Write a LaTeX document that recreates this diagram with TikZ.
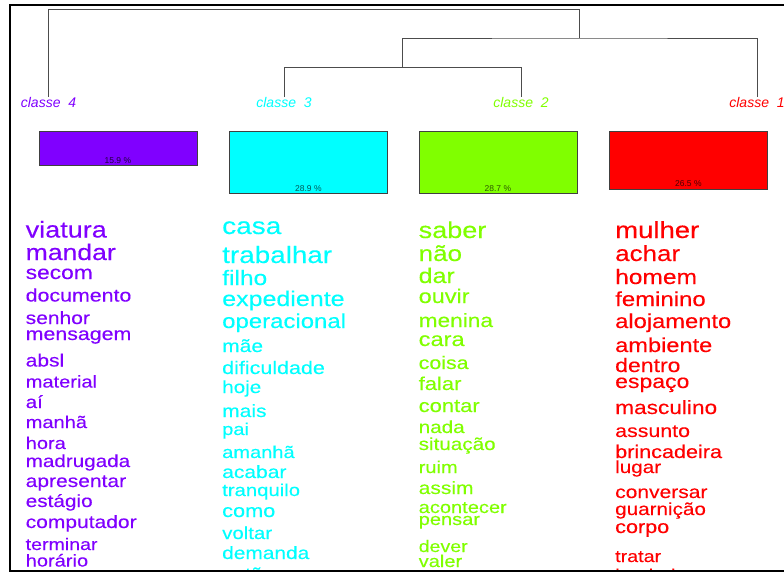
\documentclass[tikz,border=0pt]{standalone}
\usepackage{fontspec}
\setmainfont{Liberation Sans}
\newfontfamily\wordfont[FakeStretch=1.18,FakeBold=0.25]{Liberation Sans}
\usetikzlibrary{positioning}
\definecolor{cfour}{HTML}{8000FF}
\definecolor{cthree}{HTML}{00FFFF}
\definecolor{ctwo}{HTML}{80FF00}
\definecolor{cone}{HTML}{FF0000}
\newcommand\wordsize[1]{\fontsize{#1}{#1}\selectfont}

\begin{document}
\begin{tikzpicture}[x=1pt, y=-1pt,
		frame/.style={line width=2pt, black},
		dendro/.style={line width=1pt, black!70},
		classe/.style={inner sep=0pt, anchor=north, text height=10.5pt, text depth=0pt, font=\fontsize{14}{14}\selectfont\itshape},
		bar/.style={draw=black!75, line width=0.8pt, anchor=north west, inner sep=0pt, minimum width=158pt},
		pct/.style={inner sep=0pt, font=\fontsize{8.5}{8.5}\selectfont},
		word/.style={inner sep=0pt, anchor=base west}]
			%%%%% START %%%%%
			\useasboundingbox (0,0) rectangle (784,573);
			
			\node[classe, text=cfour] (c4) at (48.5,97) {classe\ \ 4};
			\node[classe, text=cthree] (c3) at (284,97) {classe\ \ 3};
			\node[classe, text=ctwo] (c2) at (521,97) {classe\ \ 2};
			\node[classe, text=cone] (c1) at (757,97) {classe\ \ 1};
			
			\coordinate (root) at (579.5,9);
			\coordinate (j123) at (579.5,38);
			\coordinate (j23) at (402,67.5);
			\draw[dendro] (c3.north) |- (j23) -| (c2.north);
			\draw[dendro] (j23) |- (j123) -| (c1.north);
			\draw[dendro] (c4.north) |- (root) -- (j123);
			
			\node[bar, fill=cfour, minimum height=34pt] (b4) at (38.5,131) {};
			\node[bar, fill=cthree, minimum height=62pt] (b3) at (229,131) {};
			\node[bar, fill=ctwo, minimum height=62pt] (b2) at (418.5,131) {};
			\node[bar, fill=cone, minimum height=58pt] (b1) at (609,131) {};
			
			\node[pct, text=cfour!25!black, above=2pt of b4.south] (p4) {15.9 \%};
			\node[pct, text=cthree!35!black, above=2pt of b3.south] (p3) {28.9 \%};
			\node[pct, text=ctwo!35!black, above=2pt of b2.south] (p2) {28.7 \%};
			\node[pct, text=cone!30!black, above=3pt of b1.south] (p1) {26.5 \%};
			
			\begin{scope}
				\clip (0,0) rectangle (784,569.5);
				
				\foreach \w/\y/\s [count=\i] in {viatura/237.5/22.9, mandar/260/22.5, secom/279/19.3, documento/301.5/18.1, senhor/324/17.8, mensagem/340/18.1, absl/366.5/17.8, material/387.5/17, aí/408/17.5, manhã/428/17, hora/449/17, madrugada/467/17.5, apresentar/487/17.8, estágio/507/17.6, computador/528/17.8, terminar/550/16.6, horário/566.5/17}
					\node[word, text=cfour, font=\wordfont\wordsize{\s}] (w4-\i) at (25.5,\y) {\w};
				
				\foreach \w/\y/\s [count=\i] in {casa/234/23.7, trabalhar/263/23.6, filho/285/20.8, expediente/306/21.2, operacional/328/20.3, mãe/352/17.8, dificuldade/374/18.2, hoje/393/17.5, mais/417/17.8, pai/435/17, amanhã/458/17, acabar/478/17.8, tranquilo/496/17.2, como/517/18.4, voltar/539/17.3, demanda/559/17.7, então/580/17.5}
					\node[word, text=cthree, font=\wordfont\wordsize{\s}] (w3-\i) at (222,\y) {\w};
				
				\foreach \w/\y/\s [count=\i] in {saber/238/22.9, não/261/22, dar/283/21.2, ouvir/303/19.9, menina/327/19.2, cara/346/20, coisa/369/18.1, falar/390/18.6, contar/412/18.6, nada/433/17.5, situação/450/17.5, ruim/473/17, assim/494/17.8, acontecer/513/17, pensar/525/17, dever/552/16.6, valer/567/17}
					\node[word, text=ctwo, font=\wordfont\wordsize{\s}] (w2-\i) at (418.5,\y) {\w};
				
				\foreach \w/\y/\s [count=\i] in {mulher/238/23.3, achar/261/22, homem/284/20.8, feminino/306/20.3, alojamento/328/20.1, ambiente/352/20, dentro/372/19.5, espaço/388/19.5, masculino/414/19.2, assunto/437/18.1, brincadeira/458/18.3, lugar/473/17.5, conversar/498/17.8, guarnição/515/17.5, corpo/533/18.3, tratar/562/16.7, banheiro/581/17}
					\node[word, text=cone, font=\wordfont\wordsize{\s}] (w1-\i) at (615,\y) {\w};
			\end{scope}
			
			\draw[frame] (784,4.5) -| (9.5,570.5) -- (784,570.5);
			%%%%% END %%%%%
		\end{tikzpicture}
\end{document}
